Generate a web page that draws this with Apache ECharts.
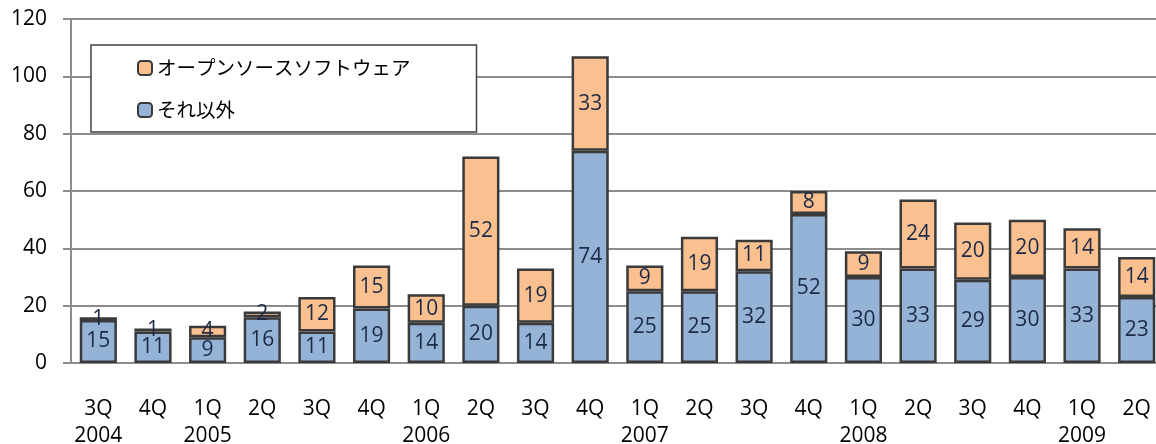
<!DOCTYPE html>
<html>
<head>
<meta charset="utf-8">
<script src="https://cdn.jsdelivr.net/npm/echarts@6/dist/echarts.min.js"></script>
<style>
  html, body { margin: 0; padding: 0; background: #fff; }
  #chart { width: 1156px; height: 444px; }
</style>
</head>
<body>
<div id="chart"></div>
<script>
// 四半期と年
const quarters = ['3Q', '4Q', '1Q', '2Q', '3Q', '4Q', '1Q', '2Q', '3Q', '4Q',
                  '1Q', '2Q', '3Q', '4Q', '1Q', '2Q', '3Q', '4Q', '1Q', '2Q']
const years = ['2004', '', '2005', '', '', '', '2006', '', '', '',
               '2007', '', '', '', '2008', '', '', '', '2009', '']

// 系列データ
const otherValues = [15, 11, 9, 16, 11, 19, 14, 20, 14, 74, 25, 25, 32, 52, 30, 33, 29, 30, 33, 23]
const ossValues = [1, 1, 4, 2, 12, 15, 10, 52, 19, 33, 9, 19, 11, 8, 9, 24, 20, 20, 14, 14]

const yTicks = [0, 20, 40, 60, 80, 100, 120]

const categories = quarters.map((q, i) => years[i] ? q + '\n' + years[i] : q)

const font = '"Open Sans", "Noto Sans CJK JP", sans-serif'
const labelStyle = {
    show: true,
    position: 'inside',
    color: '#1d2a45',
    fontSize: 21,
    fontFamily: font
}

const chart = echarts.init(document.getElementById('chart'))

chart.setOption({
    animation: false,
    grid: {
        left: 71,
        right: -8,
        top: 19,
        bottom: 81,
        containLabel: false,
        outerBoundsMode: 'none'
    },
    legend: {
        orient: 'vertical',
        left: 91,
        top: 45,
        data: ['オープンソースソフトウェア', 'それ以外'],
        itemWidth: 14,
        itemHeight: 14,
        itemGap: 20,
        padding: [12, 66, 11, 46],
        borderColor: '#404040',
        borderWidth: 1.5,
        backgroundColor: '#fff',
        textStyle: {
            fontSize: 19.5,
            lineHeight: 22,
            color: '#000',
            fontFamily: '"Noto Sans CJK JP", sans-serif'
        }
    },
    xAxis: {
        type: 'category',
        data: categories,
        axisLine: { lineStyle: { color: '#8c8c8c', width: 2 } },
        axisTick: { length: 9, lineStyle: { color: '#8c8c8c', width: 2 } },
        axisLabel: {
            interval: 0,
            margin: 33,
            color: '#000',
            fontSize: 21,
            lineHeight: 27,
            fontFamily: font
        }
    },
    yAxis: {
        type: 'value',
        min: yTicks[0],
        max: yTicks[yTicks.length - 1],
        interval: 20,
        axisLine: { show: true, lineStyle: { color: '#8c8c8c', width: 2 } },
        axisTick: { show: true, length: 8, lineStyle: { color: '#8c8c8c', width: 2 } },
        splitLine: { lineStyle: { color: '#8c8c8c', width: 2 } },
        axisLabel: {
            margin: 24,
            color: '#000',
            fontSize: 21,
            fontFamily: font
        }
    },
    series: [
        {
            name: 'それ以外',
            type: 'bar',
            stack: 'total',
            barCategoryGap: '32%',
            itemStyle: { color: '#95b3d7', borderColor: '#3a3a3a', borderWidth: 2.5 },
            label: labelStyle,
            data: otherValues
        },
        {
            name: 'オープンソースソフトウェア',
            type: 'bar',
            stack: 'total',
            barCategoryGap: '32%',
            itemStyle: { color: '#fac090', borderColor: '#3a3a3a', borderWidth: 2.5 },
            label: labelStyle,
            data: ossValues
        }
    ]
})

window.addEventListener('resize', () => chart.resize())
</script>
</body>
</html>
